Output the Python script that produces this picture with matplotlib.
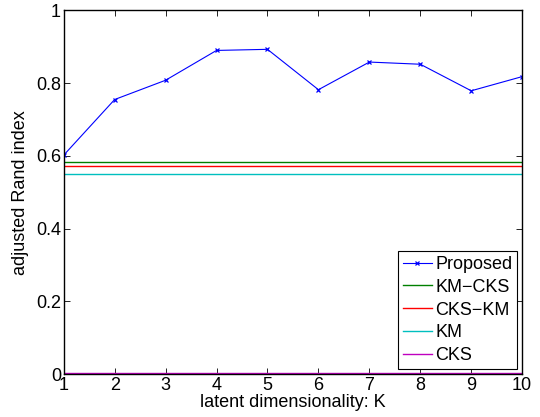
import numpy as np
import matplotlib
matplotlib.use("Agg")
import matplotlib.pyplot as plt

plt.rcParams['font.family'] = ['Liberation Sans', 'DejaVu Sans']

K = np.arange(1, 11)
proposed = [0.602, 0.755, 0.808, 0.890, 0.893, 0.782, 0.858, 0.852, 0.779, 0.818]
km_cks = 0.584
cks_km = 0.572
km = 0.550
cks = 0.003

fig = plt.figure(figsize=(5.4, 4.17), dpi=100)
ax = fig.add_axes([0.118, 0.103, 0.849, 0.872])

ax.plot(K, proposed, color=(0, 0, 1), marker='x', markersize=3.5, mew=0.9, lw=0.8, label='Proposed')
ax.plot([1, 10], [km_cks] * 2, color=(0, 0.5, 0), lw=1, label='KM\u2212CKS')
ax.plot([1, 10], [cks_km] * 2, color=(1, 0, 0), lw=1, label='CKS\u2212KM')
ax.plot([1, 10], [km] * 2, color=(0, 0.75, 0.75), lw=1, label='KM')
ax.plot([1, 10], [cks] * 2, color=(0.75, 0, 0.75), lw=1, label='CKS')

ax.set_xlim(1, 10)
ax.set_ylim(0, 1)
ax.set_xticks(K)
ax.set_yticks([0, 0.2, 0.4, 0.6, 0.8, 1])
ax.set_yticklabels(['0', '0.2', '0.4', '0.6', '0.8', '1'])
ax.tick_params(direction='in', top=True, right=True, labelsize=13, length=4, width=0.6, pad=2)
for s in ax.spines.values():
    s.set_linewidth(1)
ax.set_xlabel('latent dimensionality: K', fontsize=13, labelpad=0)
ax.set_ylabel('adjusted Rand index', fontsize=13, labelpad=5)

leg = ax.legend(loc='lower right', fontsize=13, fancybox=False, framealpha=1,
                edgecolor='black', borderpad=0.25, labelspacing=0.32,
                handlelength=1.6, handletextpad=0.2, borderaxespad=0.3)
leg.get_frame().set_linewidth(0.8)

fig.savefig('out.png', dpi=100)
